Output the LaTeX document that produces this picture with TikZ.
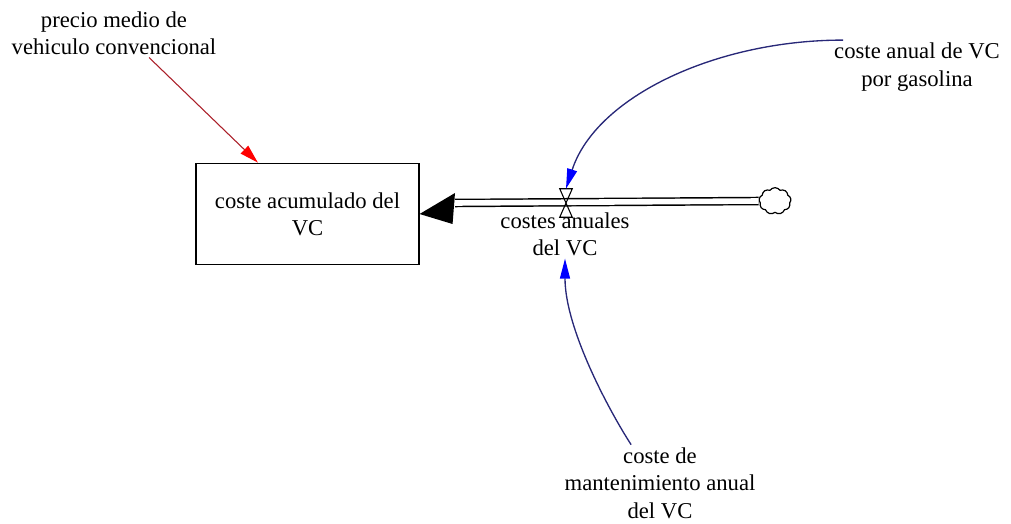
\documentclass[tikz,border=0pt]{standalone}
\usepackage{fontspec}
\setmainfont{Liberation Serif}
\usetikzlibrary{positioning,arrows.meta,shapes.symbols}

\definecolor{linkred}{RGB}{170,30,40}
\definecolor{linkblue}{RGB}{40,40,120}

\begin{document}
\begin{tikzpicture}[x=0.75pt, y=-0.75pt,
    lbl/.style={align=center, inner sep=2pt, font=\fontsize{17}{20.5}\selectfont},
    stock/.style={draw=black, line width=1.1pt, minimum width=167pt,
      minimum height=76pt, align=center, font=\fontsize{17}{20.5}\selectfont},
    valvebox/.style={minimum width=9pt, minimum height=21pt, inner sep=0pt},
    sink/.style={cloud, draw, line width=0.9pt, cloud puffs=9, cloud puff arc=110,
      minimum width=24pt, minimum height=20pt, aspect=1.2, inner sep=0pt},
    pipe/.style={double, double distance=4.2pt, line width=1.1pt},
    redlink/.style={draw=linkred, line width=0.8pt,
      -{Triangle[length=14pt, width=8pt, color=red]}},
    bluelink/.style={draw=linkblue, line width=1pt,
      -{Triangle[length=15pt, width=7.5pt, color=blue]}}
  ]
    \useasboundingbox (0,0) rectangle (1011,524);

    \node[stock] (acum) at (307.5,214) {coste acumulado del\\VC};
    \node[lbl] (precio) at (114,33) {precio medio de\\vehiculo convencional};
    \node[lbl] (anuales) at (565,234) {costes anuales\\del VC};
    \node[lbl] (gasolina) at (917,67) {coste anual de VC\\por gasolina};
    \node[lbl] (manten) at (660,483) {coste de\\mantenimiento anual\\del VC};
    \node[sink] (nube) at (775,201) {};
    \node[valvebox] (valve) at (566,203) {};
    \coordinate (tipbase) at (455,203);

    % flujo
    \draw[pipe] (nube.west) -- (tipbase);
    \fill (tipbase) ++(0,-10) -- (acum.east) -- ++(33,10) -- cycle;
    \draw[line width=0.8pt] (valve.north west) -- (valve.north east)
      -- (valve.south west) -- (valve.south east) -- cycle;

    % enlaces
    \draw[redlink] (precio.-35) -- (acum.134);
    \draw[bluelink] (gasolina.160) .. controls +(-127,0) and +(30,-92) .. (valve.north);
    \draw[bluelink] (manten.127) .. controls +(-22,-34) and +(0,70) .. (anuales.south);
  \end{tikzpicture}
\end{document}
